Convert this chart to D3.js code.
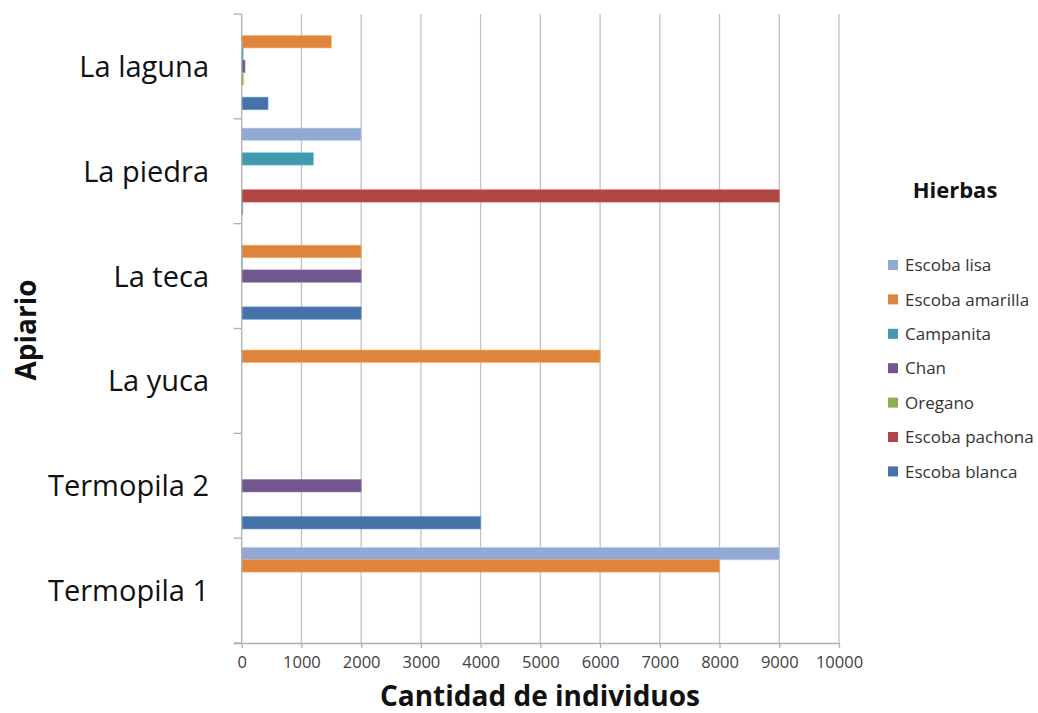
<!DOCTYPE html>
<html>
<head>
<meta charset="utf-8">
<script src="https://cdn.jsdelivr.net/npm/d3@7"></script>
<style>
  html, body { margin: 0; padding: 0; background: #fff; }
  svg { display: block; }
  text { font-family: "Open Sans", "Liberation Sans", sans-serif; }
</style>
</head>
<body>
<svg id="chart" width="1038" height="713"></svg>
<script>
// Categories (top to bottom as drawn)
const categories = ["La laguna", "La piedra", "La teca", "La yuca", "Termopila 2", "Termopila 1"];
// Series (top to bottom inside each group; legend order)
const series = ["Escoba lisa", "Escoba amarilla", "Campanita", "Chan", "Oregano", "Escoba pachona", "Escoba blanca"];
const colors = ["#93a9d1", "#df853b", "#4299b0", "#71568f", "#8fae4f", "#ad4644", "#4472a9"];
// Values per series, aligned with categories
const escobaLisa     = [0,    2000, 0,    0,    0,    9000];
const escobaAmarilla = [1500, 0,    2000, 6000, 0,    8000];
const campanita      = [25,   1200, 10,   0,    0,    0];
const chan           = [55,   0,    2000, 0,    2000, 0];
const oregano        = [30,   0,    0,    0,    0,    0];
const escobaPachona  = [0,    9000, 0,    0,    0,    0];
const escobaBlanca   = [440,  15,   2000, 0,    4000, 0];
const seriesValues = [escobaLisa, escobaAmarilla, campanita, chan, oregano, escobaPachona, escobaBlanca];
const xTicks = [0, 1000, 2000, 3000, 4000, 5000, 6000, 7000, 8000, 9000, 10000];

const svg = d3.select("#chart");
const pLeft = 241.7, pRight = 839, pTop = 14, pBottom = 643;

const x = d3.scaleLinear().domain([0, 10000]).range([pLeft, pRight]);
const y0 = d3.scaleBand().domain(categories).range([pTop, pBottom]).padding(0);
const y1 = d3.scaleBand().domain(series).range([0, y0.bandwidth()]).paddingOuter(0.75).paddingInner(0);

// gridlines
svg.append("g").selectAll("line").data(xTicks.slice(1)).join("line")
  .attr("x1", d => x(d)).attr("x2", d => x(d))
  .attr("y1", pTop).attr("y2", pBottom)
  .attr("stroke", "#c3c3c3").attr("stroke-width", 1.3);

// bars
const data = [];
categories.forEach((c, ci) => {
  series.forEach((s, si) => {
    data.push({ c, s, si, v: seriesValues[si][ci] });
  });
});
svg.append("g").selectAll("rect").data(data.filter(d => d.v > 0)).join("rect")
  .attr("x", x(0))
  .attr("y", d => y0(d.c) + y1(d.s))
  .attr("width", d => x(d.v) - x(0))
  .attr("height", y1.bandwidth())
  .attr("fill", d => colors[d.si])
  .attr("stroke", d => d3.color(colors[d.si]).brighter(0.6))
  .attr("stroke-opacity", 0.6)
  .attr("stroke-width", 1);

// x axis
const xAxis = d3.axisBottom(x).tickValues(xTicks).tickSize(5).tickPadding(8).tickFormat(d3.format("d"));
const gx = svg.append("g").attr("transform", `translate(0,${pBottom})`).call(xAxis);
gx.select(".domain").attr("stroke", "#b0b0b0").attr("stroke-width", 1.3).attr("d", `M${pLeft - 8},0.5H${pRight}`);
gx.selectAll(".tick line").attr("stroke", "#b0b0b0").attr("stroke-width", 1.3);
gx.selectAll(".tick text").attr("fill", "#404040").style("font-size", "16.5px")
  .style("font-family", "'Open Sans', sans-serif");

// y axis
const gy = svg.append("g");
gy.append("line").attr("x1", pLeft).attr("x2", pLeft).attr("y1", pTop).attr("y2", pBottom)
  .attr("stroke", "#b0b0b0").attr("stroke-width", 1.3);
const boundaries = categories.map(c => y0(c)).concat([pBottom]);
gy.selectAll("line.tk").data(boundaries).join("line").attr("class", "tk")
  .attr("x1", pLeft - 8).attr("x2", pLeft).attr("y1", d => d).attr("y2", d => d)
  .attr("stroke", "#b0b0b0").attr("stroke-width", 1.3);
gy.selectAll("text").data(categories).join("text")
  .attr("x", 209).attr("y", d => y0(d) + y0.bandwidth() / 2)
  .attr("dy", "0.36em").attr("text-anchor", "end")
  .attr("fill", "#111").style("font-size", "29px").text(d => d);

// axis titles
svg.append("text").attr("x", 540).attr("y", 706).attr("text-anchor", "middle")
  .style("font-size", "28px").style("font-weight", "bold").attr("fill", "#111")
  .text("Cantidad de individuos");
svg.append("text").attr("transform", "translate(36,330) rotate(-90)").attr("text-anchor", "middle")
  .style("font-size", "28px").style("font-weight", "bold").attr("fill", "#111")
  .text("Apiario");

// legend
const lg = svg.append("g");
lg.append("text").attr("x", 955).attr("y", 198).attr("text-anchor", "middle")
  .style("font-size", "22px").style("font-weight", "bold").attr("fill", "#111").text("Hierbas");
const items = lg.selectAll("g.item").data(series).join("g").attr("class", "item")
  .attr("transform", (d, i) => `translate(888,${265 + i * 34.4})`);
items.append("rect").attr("x", 0).attr("y", -5).attr("width", 10).attr("height", 10)
  .attr("fill", (d, i) => colors[i]);
items.append("text").attr("x", 17).attr("y", 0).attr("dy", "0.36em")
  .style("font-size", "17px").attr("fill", "#333").text(d => d);
</script>
</body>
</html>
